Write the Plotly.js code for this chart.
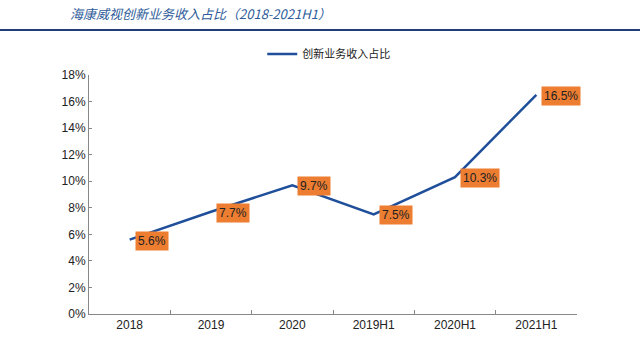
<!DOCTYPE html>
<html><head><meta charset="utf-8">
<script src="https://cdn.plot.ly/plotly-3.0.1.min.js"></script>
<style>body{margin:0;background:#fff}#c{width:640px;height:351px}</style>
</head><body><div id="c"></div>
<script>
var categories = ['2018','2019','2020','2019H1','2020H1','2021H1'];
var shareValues = [0.056, 0.077, 0.097, 0.075, 0.103, 0.165];
var dataLabels = ['5.6%','7.7%','9.7%','7.5%','10.3%','16.5%'];
var seriesName = '创新业务收入占比';
var chartTitle = '海康威视创新业务收入占比（2018-2021H1）';

var annotations = categories.map(function(c,i){
  return {x:i, y:shareValues[i], xref:'x', yref:'y', text:dataLabels[i], showarrow:false,
    xanchor:'left', yanchor:'middle', xshift:5, yshift:-1,
    bgcolor:'#ED7D31', borderpad:2,
    font:{family:'Liberation Sans, Arial, sans-serif', size:12, color:'#222'}};
});
annotations.push({xref:'paper', yref:'paper', x:-0.043, y:1.259, xanchor:'left', yanchor:'middle',
  text:'<i>'+chartTitle+'</i>', showarrow:false,
  font:{family:'Noto Sans CJK SC, sans-serif', size:13, color:'#2E5C9A'}});

var layout = {
  width:640, height:351,
  margin:{l:89, r:63, t:75, b:37},
  paper_bgcolor:'#fff', plot_bgcolor:'#fff',
  showlegend:true,
  legend:{orientation:'h', x:0.355, y:1.088, xanchor:'left', yanchor:'middle',
    font:{family:'Noto Sans CJK SC, sans-serif', size:11, color:'#222'}},
  xaxis:{type:'category', categoryorder:'array', categoryarray:categories,
    range:[-0.5,5.5], showline:true, linecolor:'#888', linewidth:1,
    ticks:'inside', ticklen:4, tickcolor:'#888', tickson:'boundaries',
    showgrid:false, zeroline:false, tickangle:0,
    tickfont:{family:'Liberation Sans, Arial, sans-serif', size:12, color:'#222'}},
  yaxis:{range:[0,0.18], dtick:0.02, tickformat:'.0%', showline:true, linecolor:'#888',
    linewidth:1, ticks:'inside', ticklen:3, tickcolor:'#888', showgrid:false, zeroline:false,
    tickfont:{family:'Liberation Sans, Arial, sans-serif', size:12, color:'#222'}},
  annotations:annotations,
  shapes:[{type:'line', xref:'paper', yref:'paper', x0:-0.2, x1:1.2, y0:1.188, y1:1.188,
    line:{color:'#1F3F7A', width:2}}]
};
Plotly.newPlot('c', [{x:categories, y:shareValues, name:seriesName, type:'scatter', mode:'lines',
  line:{color:'#1F4E9A', width:2.5}}], layout, {displayModeBar:false, staticPlot:true});
</script></body></html>
